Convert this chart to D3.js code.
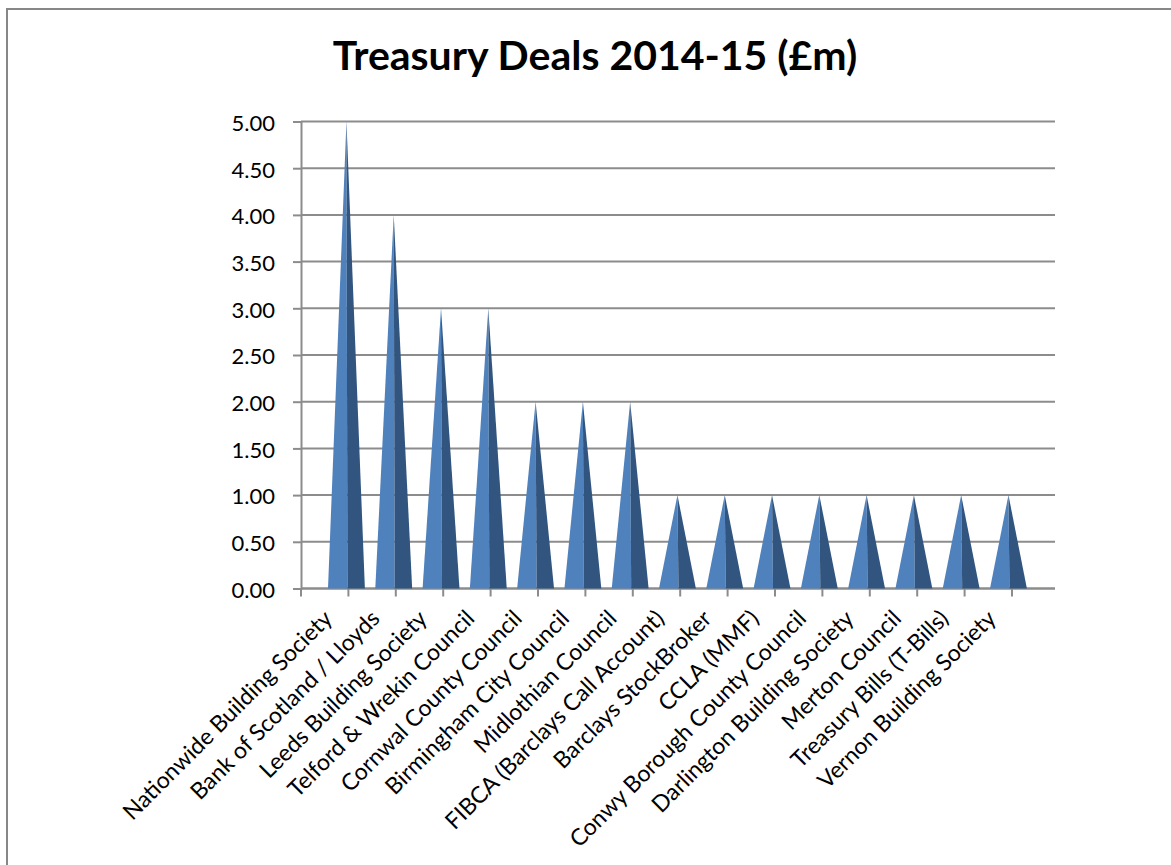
<!DOCTYPE html>
<html><head><meta charset="utf-8">
<script src="https://cdn.jsdelivr.net/npm/d3@7"></script>
<style>body{margin:0;background:#fff}svg{display:block}</style>
</head><body>
<svg id="c" width="1171" height="865"></svg>
<script>
const categories = ["Nationwide Building Society","Bank of Scotland / Lloyds","Leeds Building Society","Telford & Wrekin Council","Cornwal County Council","Birmingham City Council","Midlothian Council","FIBCA (Barclays Call Account)","Barclays StockBroker","CCLA (MMF)","Conwy Borough County Council","Darlington Building Society","Merton Council","Treasury Bills (T-Bills)","Vernon Building Society"];
const values = [5,4,3,3,2,2,2,1,1,1,1,1,1,1,1];
const yTicks = [0,0.5,1,1.5,2,2.5,3,3.5,4,4.5,5];
const title = "Treasury Deals 2014-15 (£m)";

const svg = d3.select("#c");
svg.append("rect").attr("x",7).attr("y",9).attr("width",1300).attr("height",1000)
  .attr("fill","#fff").attr("stroke","#878787").attr("stroke-width",2);

svg.append("text").attr("x",595).attr("y",70).attr("text-anchor","middle")
  .attr("font-family","Lato").attr("font-weight","bold").attr("font-size",41)
  .attr("fill","#000").text(title);

const y = d3.scaleLinear().domain([0,5]).range([588.5,121.5]);
// front (floor) axis scale
const x = d3.scaleBand().domain(categories).range([301,1012]);
// pyramids sit deeper in the 3D plot, shifted right
const xp = d3.scaleBand().domain(categories).range([322.8,1032.1]);
const wallRight = 1055;

// gridlines
svg.append("g").selectAll("line").data(yTicks).join("line")
  .attr("x1",301).attr("x2",wallRight).attr("y1",d=>y(d)).attr("y2",d=>y(d))
  .attr("stroke","#8c8c8c").attr("stroke-width",2);

// y axis
const ya = svg.append("g").attr("transform","translate(301,0)")
  .call(d3.axisLeft(y).tickValues(yTicks).tickFormat(d3.format(".2f")).tickSize(8).tickPadding(18));
ya.select(".domain").attr("stroke","#8c8c8c").attr("stroke-width",2);
ya.selectAll(".tick line").attr("stroke","#8c8c8c").attr("stroke-width",2);
ya.selectAll(".tick text").attr("font-family","Lato").attr("font-size",22).attr("fill","#000").attr("dy","0.4em");

// x axis
const xa = svg.append("g").attr("transform",`translate(0,${y(0)})`);
xa.append("line").attr("x1",301).attr("x2",wallRight).attr("y1",0).attr("y2",0)
  .attr("stroke","#8c8c8c").attr("stroke-width",2);
const bounds = x.domain().map(d=>x(d)).concat([x.range()[1]]);
xa.selectAll(".bt").data(bounds).join("line").attr("class","bt")
  .attr("x1",d=>d).attr("x2",d=>d).attr("y1",0).attr("y2",8)
  .attr("stroke","#8c8c8c").attr("stroke-width",2);

// pyramids
const g = svg.append("g");
categories.forEach((c,i)=>{
  const cx = xp(c) + xp.bandwidth()/2;
  const hw = xp.bandwidth()*0.39;
  const split = cx + 1;
  const y0 = y(0), yt = y(values[i]);
  g.append("path").attr("d",`M${cx-hw},${y0}L${cx},${yt}L${split},${y0}Z`).attr("fill","#4f81bd");
  g.append("path").attr("d",`M${cx},${yt}L${cx+hw},${y0}L${split},${y0}Z`).attr("fill","#31557f");
});

// category labels
svg.append("g").selectAll("text").data(categories).join("text")
  .attr("transform",d=>`translate(${x(d)+x.bandwidth()/2+9},620) rotate(-45)`)
  .attr("text-anchor","end").attr("font-family","Lato").attr("font-size",23).attr("fill","#000")
  .text(d=>d);
</script>
</body></html>
